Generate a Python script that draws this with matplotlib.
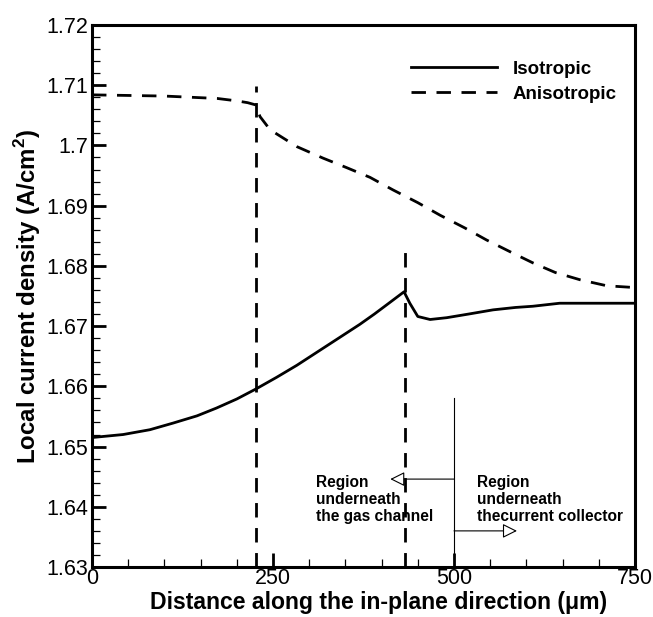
import numpy as np
import matplotlib.pyplot as plt

plt.rcParams['font.family'] = ['Liberation Sans', 'DejaVu Sans']
plt.rcParams['mathtext.fontset'] = 'custom'
plt.rcParams['mathtext.rm'] = 'Liberation Sans'
plt.rcParams['mathtext.bf'] = 'Liberation Sans:bold'

# Isotropic case
x_iso = [0, 43, 80, 112, 145, 172, 200, 227, 255, 283, 315, 347, 370, 390, 410, 431,
         439, 450, 467, 490, 520, 554, 585, 609, 646, 750]
y_iso = [1.6515, 1.6520, 1.6528, 1.6539, 1.6551, 1.6564, 1.6579, 1.6596, 1.6615, 1.6635,
         1.6660, 1.6685, 1.6703, 1.6720, 1.6738, 1.6757, 1.6738, 1.6716, 1.6711, 1.6714,
         1.6720, 1.6727, 1.6731, 1.6733, 1.6738, 1.6738]

# Anisotropic case
x_ani = [0, 100, 173, 200, 215, 227, 232, 246, 283, 319, 352, 384, 416, 450, 481, 515,
         545, 580, 609, 640, 674, 711, 750]
y_ani = [1.7084, 1.7082, 1.7078, 1.7074, 1.7071, 1.7067, 1.7048, 1.7026, 1.6998, 1.6979,
         1.6963, 1.6947, 1.6926, 1.6905, 1.6884, 1.6863, 1.6843, 1.6822, 1.6805, 1.6789,
         1.6777, 1.6767, 1.6764]

# boundaries between channel and collector regions
x_marks = [227, 432]
y_marks_top = [1.7099, 1.6835]

fig = plt.figure(figsize=(6.53, 6.17), dpi=100)
ax = fig.add_axes([0.1409, 0.081, 0.8315, 0.8785])

ax.plot(x_iso, y_iso, color='black', lw=2.0, label='Isotropic')
ax.plot(x_ani, y_ani, color='black', lw=2.0, dashes=(5.2, 3.8), label='Anisotropic')

for xm, ym in zip(x_marks, y_marks_top):
    ax.plot([xm, xm], [1.63, ym], color='black', lw=2.0, dashes=(5.2, 3.8))

# region annotation
ax.plot([500, 500], [1.63, 1.658], color='black', lw=0.8)
ax.annotate('', xy=(412, 1.6446), xytext=(500, 1.6446),
            arrowprops=dict(arrowstyle='-|>', fc='white', ec='black', lw=0.8,
                            mutation_scale=22, shrinkA=0, shrinkB=0))
ax.annotate('', xy=(587, 1.6360), xytext=(500, 1.6360),
            arrowprops=dict(arrowstyle='-|>', fc='white', ec='black', lw=0.8,
                            mutation_scale=22, shrinkA=0, shrinkB=0))
ax.text(310, 1.6412, 'Region\nunderneath\nthe gas channel', fontsize=11.2,
        fontweight='bold', va='center', ha='left', linespacing=1.2)
ax.text(532, 1.6412, 'Region\nunderneath\nthecurrent collector', fontsize=11.2,
        fontweight='bold', va='center', ha='left', linespacing=1.2)

ax.set_xlim(0, 750)
ax.set_ylim(1.63, 1.72)
ax.set_xticks([0, 250, 500, 750])
ax.set_xticks(np.arange(0, 751, 50), minor=True)
ax.set_yticks(np.arange(1.63, 1.7201, 0.01))
ax.set_yticks(np.arange(1.63, 1.7201, 0.002), minor=True)
ax.yaxis.set_major_formatter(plt.FuncFormatter(lambda v, p: f'{v:g}'))
ax.tick_params(which='both', direction='in', top=False, right=False, labelsize=15.5)
ax.tick_params(which='major', length=10, width=2, pad=3)
ax.tick_params(axis='x', which='major', pad=1)
ax.tick_params(which='minor', length=5.5, width=0.9)
for s in ax.spines.values():
    s.set_linewidth(2.2)

ax.set_xlabel('Distance along the in-plane direction (\u03bcm)',
              fontsize=16.6, fontweight='bold')
ax.xaxis.set_label_coords(0.528, -0.044)
ax.xaxis.label.set_va('top')
ax.set_ylabel(r'Local current density (A/cm$^\mathbf{2}$)',
              fontsize=17.3, fontweight='bold', labelpad=2)

leg = ax.legend(loc='upper right', bbox_to_anchor=(0.997, 0.965), frameon=False,
                prop={'weight': 'bold', 'size': 13.5}, handlelength=4.6,
                handletextpad=0.8, labelspacing=0.4)

fig.savefig('out.png', dpi=100)
